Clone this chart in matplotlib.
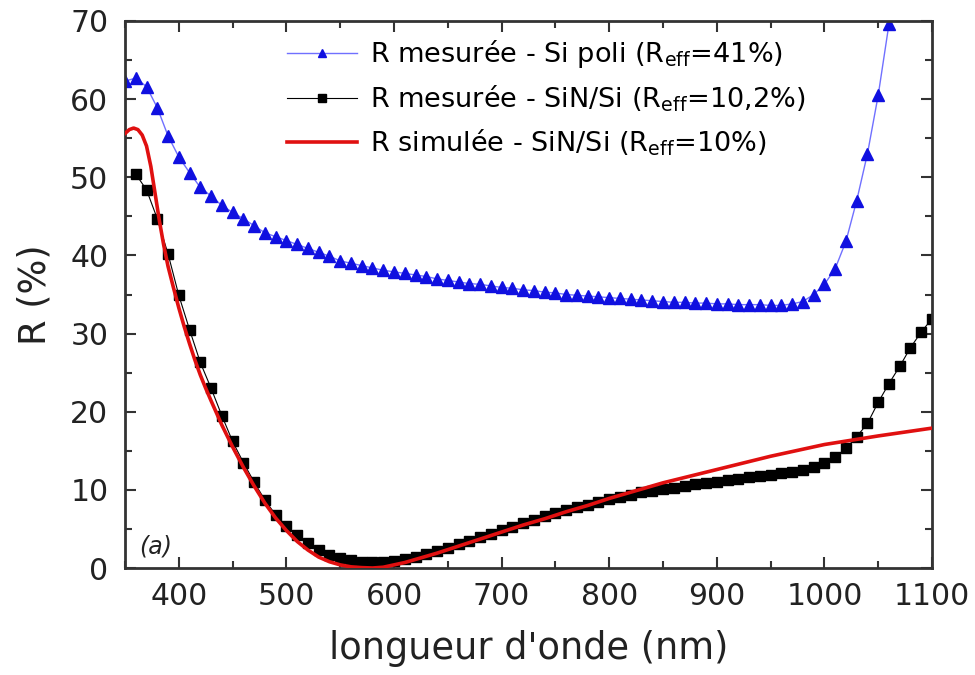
import numpy as np
import matplotlib
matplotlib.use("Agg")
import matplotlib.pyplot as plt
from matplotlib.ticker import MultipleLocator

plt.rcParams["font.family"] = "DejaVu Sans"
plt.rcParams["mathtext.default"] = "regular"

# R mesuree - Si poli (triangles bleus), pas de 10 nm
wl_si = np.arange(350, 1061, 10)
r_si = [62.3, 62.7, 61.6, 58.9, 55.3, 52.6, 50.6, 48.7, 47.6, 46.4,
        45.5, 44.7, 43.8, 42.9, 42.4, 41.9, 41.4, 40.9, 40.4, 39.9,
        39.3, 39.0, 38.7, 38.4, 38.1, 37.9, 37.7, 37.5, 37.3, 37.0,
        36.8, 36.6, 36.4, 36.3, 36.1, 35.9, 35.8, 35.6, 35.5, 35.3,
        35.2, 35.0, 34.9, 34.8, 34.7, 34.6, 34.5, 34.4, 34.3, 34.2,
        34.1, 34.0, 34.0, 33.9, 33.9, 33.8, 33.8, 33.7, 33.7, 33.7,
        33.6, 33.6, 33.8, 34.1, 35.0, 36.3, 38.3, 41.8, 47.0, 53.0,
        60.5, 69.6]

# R mesuree - SiN/Si (carres noirs)
wl_sin = np.arange(360, 1101, 10)
r_sin = [50.4, 48.4, 44.7, 40.2, 34.9, 30.5, 26.3, 23.0, 19.5, 16.2,
         13.5, 11.0, 8.7, 6.8, 5.4, 4.2, 3.2, 2.3, 1.7, 1.3,
         1.0, 0.8, 0.8, 0.8, 0.9, 1.1, 1.4, 1.8, 2.2, 2.6,
         3.1, 3.5, 4.0, 4.4, 4.9, 5.3, 5.8, 6.2, 6.6, 7.0,
         7.4, 7.8, 8.1, 8.5, 8.8, 9.1, 9.4, 9.7, 9.9, 10.1,
         10.3, 10.5, 10.7, 10.9, 11.0, 11.2, 11.4, 11.6, 11.8, 11.9,
         12.1, 12.3, 12.5, 12.9, 13.4, 14.2, 15.3, 16.8, 18.5, 21.2,
         23.6, 25.8, 28.2, 30.2, 31.9]

# R simulee - SiN/Si (courbe rouge)
wl_sim = [350, 354, 358, 362, 366, 370, 374, 378, 382, 386, 390, 395, 400,
          405, 410, 415, 420, 425, 430, 440, 450, 460, 470, 480, 490, 500,
          510, 520, 530, 540, 550, 560, 570, 580, 590, 600, 610, 620, 640,
          660, 680, 700, 720, 740, 760, 780, 800, 850, 900, 950, 1000, 1050,
          1100]
r_sim = [55.6, 56.1, 56.3, 56.1, 55.4, 54.0, 51.4, 47.9, 44.4, 41.3, 38.6,
         35.9, 33.3, 30.9, 28.7, 26.6, 24.7, 23.0, 21.4, 18.3, 15.5, 12.9,
         10.5, 8.3, 6.4, 4.8, 3.4, 2.3, 1.4, 0.8, 0.4, 0.15, 0.05, 0.0, 0.1,
         0.4, 0.7, 1.1, 1.9, 2.8, 3.7, 4.6, 5.5, 6.3, 7.2, 8.0, 8.9, 10.9,
         12.6, 14.3, 15.8, 16.9, 17.9]

labels = [r"R mesurée - Si poli (R$_{eff}$=41%)",
          r"R mesurée - SiN/Si (R$_{eff}$=10,2%)",
          r"R simulée - SiN/Si (R$_{eff}$=10%)"]

fig = plt.figure(figsize=(9.75, 6.75), dpi=100)
ax = fig.add_axes([125 / 975, 1 - 568 / 675, (932 - 125) / 975, (568 - 21) / 675])

ax.plot(wl_si, r_si, color="#7070ff", linewidth=1.0, marker="^",
        markersize=8.2, markerfacecolor="#1010e0", markeredgecolor="#1010e0",
        label=labels[0])
ax.plot(wl_sin, r_sin, color="black", linewidth=0.8, marker="s",
        markersize=7, markerfacecolor="black", markeredgecolor="black",
        label=labels[1])
ax.plot(wl_sim, r_sim, color="#e01010", linewidth=2.6, label=labels[2],
        zorder=3)

ax.set_xlim(350, 1100)
ax.set_ylim(0, 70)
ax.xaxis.set_major_locator(MultipleLocator(100))
ax.xaxis.set_minor_locator(MultipleLocator(50))
ax.yaxis.set_major_locator(MultipleLocator(10))
ax.yaxis.set_minor_locator(MultipleLocator(5))
ax.tick_params(which="both", direction="in", top=True, right=True,
               width=1.5, colors="#333333", labelcolor="#222222")
ax.tick_params(which="major", length=8, labelsize=21.5)
ax.tick_params(which="minor", length=5)
ax.tick_params(axis="x", which="major", pad=10)
ax.tick_params(axis="y", which="major", pad=12)
for s in ax.spines.values():
    s.set_linewidth(2)
    s.set_color("#333333")

ax.set_xlabel("longueur d'onde (nm)", fontsize=26.5, color="#222222",
              labelpad=14)
ax.set_ylabel("R (%)", fontsize=26.5, color="#222222", labelpad=12)

ax.text(0.018, 0.04, "(a)", transform=ax.transAxes, fontsize=17,
        style="italic", color="#222222", ha="left", va="center")

ax.legend(loc="upper left", bbox_to_anchor=(287 / 975, 1 - 38 / 675),
          bbox_transform=fig.transFigure, frameon=False, fontsize=19.5,
          handlelength=2.6, handletextpad=0.45, labelspacing=0.5,
          borderpad=0, borderaxespad=0, markerscale=0.75)

fig.savefig("out.png", dpi=100)
